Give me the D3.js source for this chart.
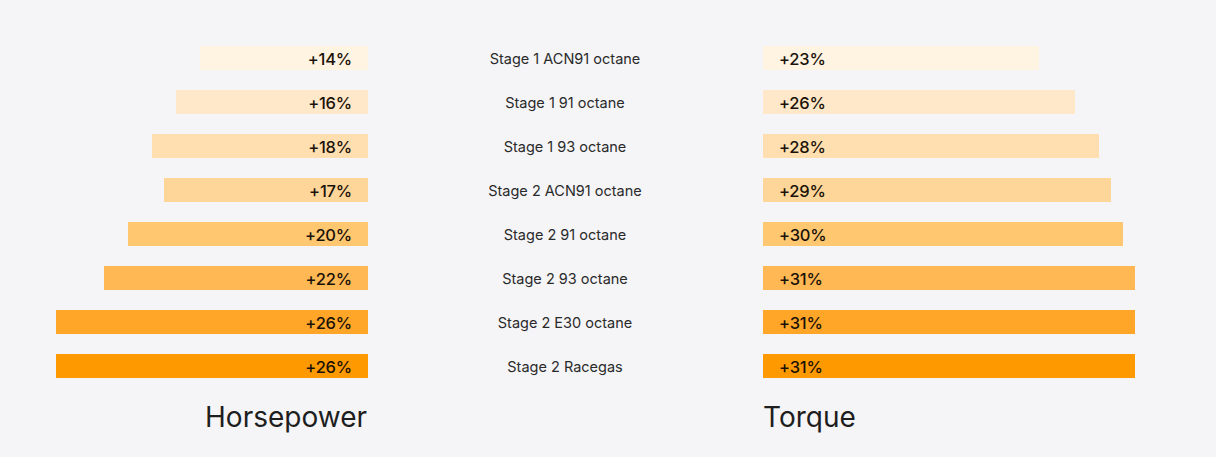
<!DOCTYPE html>
<html><head><meta charset="utf-8">
<script src="https://cdn.jsdelivr.net/npm/d3@7"></script>
<style>
html,body{margin:0;padding:0;background:#f5f5f7;}
svg{display:block;font-family:Inter, "Noto Sans", sans-serif;}
</style></head>
<body><svg id="c" width="1216" height="457"></svg>
<script>
const categories = ["Stage 1 ACN91 octane","Stage 1 91 octane","Stage 1 93 octane","Stage 2 ACN91 octane","Stage 2 91 octane","Stage 2 93 octane","Stage 2 E30 octane","Stage 2 Racegas"];
const horsepower = [14,16,18,17,20,22,26,26];
const torque = [23,26,28,29,30,31,31,31];
const barColors = ["#fff3e2","#ffe8c9","#ffdfb0","#ffd699","#ffc770","#ffb853","#ffa628","#ff9900"];

const svg = d3.select("#c");
const y = d3.scaleBand().domain(categories).range([36, 388]).paddingInner(0.455).paddingOuter(0.2275);
const xL = d3.scaleLinear().domain([0, 26]).range([368, 56]);
const xR = d3.scaleLinear().domain([0, 31]).range([763, 1135]);

const g = svg.append("g");
categories.forEach((c, i) => {
  const yy = y(c), h = y.bandwidth(), cy = yy + h/2;
  g.append("rect").attr("x", xL(horsepower[i])).attr("y", yy).attr("width", xL(0)-xL(horsepower[i])).attr("height", h).attr("fill", barColors[i]);
  g.append("rect").attr("x", xR(0)).attr("y", yy).attr("width", xR(torque[i])-xR(0)).attr("height", h).attr("fill", barColors[i]);
  g.append("text").attr("x", 352).attr("y", cy + 1).attr("dy","0.35em").attr("text-anchor","end")
    .attr("font-size", 16.5).attr("font-weight", 500).attr("letter-spacing", -0.2).attr("fill", "#1a1208").text("+" + horsepower[i] + "%");
  g.append("text").attr("x", 779).attr("y", cy + 1).attr("dy","0.35em").attr("text-anchor","start")
    .attr("font-size", 16.5).attr("font-weight", 500).attr("letter-spacing", -0.2).attr("fill", "#1a1208").text("+" + torque[i] + "%");
  g.append("text").attr("x", 565).attr("y", cy + 1).attr("dy","0.35em").attr("text-anchor","middle")
    .attr("font-size", 14.5).attr("fill", "#2a2a2a").text(c);
});
svg.append("text").attr("x", 367).attr("y", 427).attr("text-anchor","end").attr("font-size", 28).attr("fill","#1e1e1e").text("Horsepower");
svg.append("text").attr("x", 763).attr("y", 427).attr("text-anchor","start").attr("font-size", 28).attr("fill","#1e1e1e").text("Torque");
</script></body></html>
